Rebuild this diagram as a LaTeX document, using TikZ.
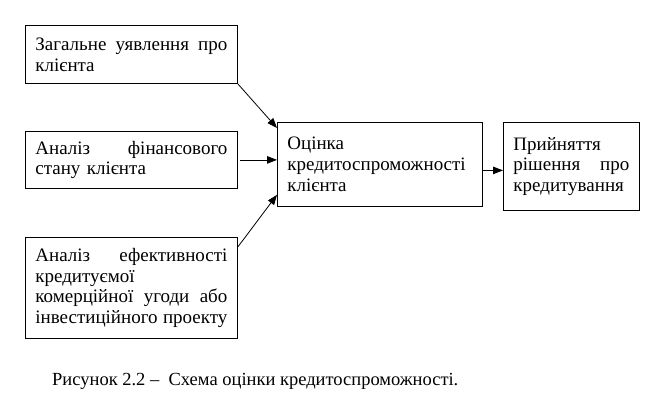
\documentclass[tikz,border=0pt]{standalone}
\usepackage{fontspec}
\setmainfont{Liberation Serif}
\usetikzlibrary{arrows.meta}
\newcommand{\jl}[2]{\makebox[#1][s]{\spaceskip=0pt\relax #2}}
\tikzset{
  blok/.style={draw, line width=0.8pt, anchor=north west, inner xsep=10pt, inner ysep=0pt,
    align=left, font=\fontsize{19}{20.8}\selectfont},
  strilka/.style={line width=0.8pt, -{Triangle[length=10pt,width=7.5pt]}}
}
\begin{document}
\begin{tikzpicture}[x=1pt, y=-1pt]
\useasboundingbox (0, 0) rectangle (671, 415);
\node[blok, text width=192pt, minimum height=58pt] (zag) at (25, 25)
  {\jl{192pt}{Загальне уявлення про}\\клієнта};
\node[blok, text width=192pt, minimum height=57pt] (fin) at (25, 131)
  {\jl{192pt}{Аналіз фінансового}\\стану клієнта};
\node[blok, text width=192pt, minimum height=101pt] (efek) at (25, 237)
  {\jl{192pt}{Аналіз ефективності}\\кредитуємої\\\jl{192pt}{комерційної угоди або}\\\jl{192pt}{інвестиційного проекту}};
\node[blok, text width=185pt, minimum height=84pt] (ocin) at (277, 122)
  {Оцінка\\кредитоспроможності\\клієнта};
\node[blok, text width=116pt, minimum height=88pt] (pryi) at (503, 122)
  {Прийняття\\\jl{116pt}{рішення про}\\кредитування};
\draw[strilka] (zag.south east) -- ([yshift=-6pt]ocin.north west);
\draw[strilka] ([xshift=2pt]fin.east) -- (fin.east -| ocin.west);
\draw[strilka] ([yshift=-10pt]efek.north east) -- ([yshift=12pt]ocin.south west);
\draw[strilka] ([yshift=-6pt]ocin.east) -- ([yshift=-6pt]ocin.east -| pryi.west);
\node[anchor=base west, inner sep=0pt, font=\fontsize{18.5}{21}\selectfont] (pidpys) at (52, 385)
  {Рисунок 2.2 –\ \ Схема оцінки кредитоспроможності.};
\end{tikzpicture}
\end{document}
